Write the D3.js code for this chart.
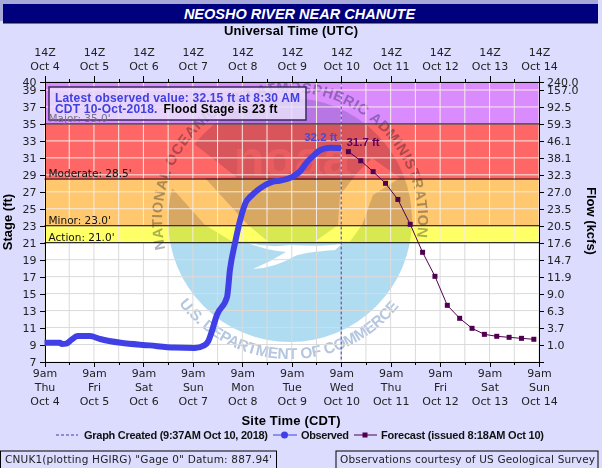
<!DOCTYPE html>
<html>
<head>
<meta charset="utf-8">
<script src="https://cdn.jsdelivr.net/npm/d3@7"></script>
<style>
  html, body { margin: 0; padding: 0; background: #dcdcff; }
  svg { display: block; }
  text { font-family: "DejaVu Sans", sans-serif; }
  .bold { font-family: "Liberation Sans", sans-serif; font-weight: bold; }
  .axis text { font-size: 11px; fill: #222; }
  .axis path, .axis line { stroke: #000; shape-rendering: crispEdges; }
</style>
</head>
<body>
<svg id="chart" width="602" height="468"></svg>
<script>
// hours after 9am Thu Oct 4 (site time)
const obsHours = [0, 7.5, 8.5, 10.5, 13, 16, 22, 27, 37, 51, 63, 73, 77.5, 79.5, 81, 83.7, 88.6, 90, 92.5, 95, 98, 99.8, 104.6, 111, 114, 120.6, 124, 127.4, 130.3, 133.7, 138.6, 144];
const obsStage = [9.2, 9.2, 9.05, 9.1, 9.55, 10, 10, 9.65, 9.2, 8.9, 8.65, 8.6, 8.9, 9.4, 10.4, 12.5, 14.6, 17.8, 21, 23.7, 25.9, 26.4, 27.4, 28.2, 28.3, 28.8, 29.4, 30.5, 31.2, 31.9, 32.2, 32.15];
const fcstHours = [147.5, 153.5, 159.5, 165.5, 171.5, 177.5, 183.5, 189.5, 195.5, 201.5, 207.5, 213.5, 219.5, 225.5, 231.5, 237.5];
const fcstStage = [31.73, 30.66, 29.37, 28.0, 26.1, 23.17, 19.87, 17.04, 13.62, 12.09, 10.91, 10.2, 9.97, 9.85, 9.73, 9.62];

const stageTicks = [40, 39, 37, 35, 33, 31, 29, 27, 25, 23, 21, 19, 17, 15, 13, 11, 9, 7];
const flowLabels = ["240.0", "157.0", "92.5", "59.3", "46.1", "38.1", "32.3", "27.0", "23.5", "20.5", "17.6", "14.7", "11.9", "9.0", "6.3", "3.7", "1.0", ""];
const dayNames = ["Thu", "Fri", "Sat", "Sun", "Mon", "Tue", "Wed", "Thu", "Fri", "Sat", "Sun"];
const dateNames = ["Oct 4", "Oct 5", "Oct 6", "Oct 7", "Oct 8", "Oct 9", "Oct 10", "Oct 11", "Oct 12", "Oct 13", "Oct 14"];

const bandLimits = [40, 35, 28.5, 23, 21];
const bandColors = ["#da8cff", "#ff6666", "#ffc86e", "#ffff66"];
const stageNames = ["Major: 35.0'", "Moderate: 28.5'", "Minor: 23.0'", "Action: 21.0'"];
const stageLevels = [35, 28.5, 23, 21];

const svg = d3.select("#chart");
const margin = { top: 81.5, right: 63, bottom: 106.5, left: 44.5 };
const width = 602, height = 468;

const start = Date.UTC(2018, 9, 4, 9);
const atHour = h => new Date(start + h * 3600000);
const x = d3.scaleUtc().domain([atHour(0), atHour(240)]).range([margin.left, width - margin.right]);
const y = d3.scaleLinear().domain([7, 40]).range([height - margin.bottom, margin.top]);
const days = d3.range(0, 241, 24).map(atHour);
const halfDays = d3.range(12, 240, 24).map(atHour);
const allLines = d3.range(0, 241, 12).map(atHour);

// title bar
svg.append("rect").attr("x", 0).attr("y", 0).attr("width", 598).attr("height", 4).attr("fill", "#a8a8d8");
svg.append("rect").attr("x", 0).attr("y", 0).attr("width", 3).attr("height", 21).attr("fill", "#a8a8d8");
svg.append("rect").attr("x", 3).attr("y", 4).attr("width", 595).attr("height", 19).attr("fill", "#00007f");
svg.append("rect").attr("x", 3).attr("y", 22).attr("width", 595).attr("height", 1.5).attr("fill", "#000050");
svg.append("text").attr("class", "bold").attr("x", 299.5).attr("y", 18.5).attr("text-anchor", "middle")
  .attr("font-size", 14.5).attr("font-style", "italic").attr("fill", "#fff").text("NEOSHO RIVER NEAR CHANUTE");

// plot background and flood bands
svg.append("rect").attr("x", x.range()[0]).attr("y", margin.top)
  .attr("width", x.range()[1] - x.range()[0]).attr("height", y(7) - y(40)).attr("fill", "#fff");
svg.append("g").selectAll("rect").data(bandColors).join("rect")
  .attr("x", x.range()[0])
  .attr("width", x.range()[1] - x.range()[0])
  .attr("y", (d, i) => y(bandLimits[i]))
  .attr("height", (d, i) => y(bandLimits[i + 1]) - y(bandLimits[i]))
  .attr("fill", d => d);

// NOAA watermark
const cx = 290, cy = 220, r = 122;
const logo = svg.append("g").style("mix-blend-mode", "multiply");
const defs = svg.append("defs");
defs.append("clipPath").attr("id", "disc").append("circle").attr("cx", cx).attr("cy", cy).attr("r", r);
const disc = logo.append("g").attr("clip-path", "url(#disc)");
disc.append("rect").attr("x", cx - r).attr("y", cy - r).attr("width", 2 * r).attr("height", y(23) - cy + r).attr("fill", "#d8d6e4");
disc.append("rect").attr("x", cx - r).attr("y", y(23)).attr("width", 2 * r).attr("height", y(21) - y(23)).attr("fill", "#d8e8c8");
disc.append("rect").attr("x", cx - r).attr("y", y(21)).attr("width", 2 * r).attr("height", cy + r - y(21)).attr("fill", "#b0dcf2");
// light stripes and the white gull cut out of the disc
disc.append("path").attr("fill", "#fff")
  .attr("d", "M150 130 L193 143 L237 177.5 L205 178 L248 225 L268 241.5 L232 241.5 L205 225 L172 188 L150 170 Z");
disc.append("path").attr("fill", "#fff")
  .attr("d", "M372 158 L400 178 L373 195 L362 225 L350 241.5 L315 241.5 L338 225 L340 195 L358 172 Z");
disc.append("path").attr("fill", "#fff")
  .attr("d", "M248 243 Q270 248 290 245 Q320 247 342 244 L335 250 Q305 252 295 256 Q275 268 253 269 Q270 262 286 252 Q265 250 248 243 Z");
disc.append("text").attr("class", "bold").attr("x", cx + 2).attr("y", 176).attr("text-anchor", "middle")
  .attr("font-size", 50).attr("fill", "#fff").attr("opacity", 0.45).text("noaa");

const ringPoint = (rad, deg) => [cx + rad * Math.cos(deg * Math.PI / 180), cy + rad * Math.sin(deg * Math.PI / 180)];
const topFrom = ringPoint(128, 167), topTo = ringPoint(128, 13);
const botFrom = ringPoint(139, 143), botTo = ringPoint(139, 37);
defs.append("path").attr("id", "ringTop")
  .attr("d", `M${topFrom} A128 128 0 1 1 ${topTo}`);
defs.append("path").attr("id", "ringBottom")
  .attr("d", `M${botFrom} A139 139 0 0 0 ${botTo}`);
logo.append("text").attr("class", "bold").attr("font-size", 14.5).attr("fill", "#acb0bc")
  .append("textPath").attr("href", "#ringTop").attr("textLength", 448)
  .text("NATIONAL OCEANIC AND ATMOSPHERIC ADMINISTRATION");
logo.append("text").attr("class", "bold").attr("font-size", 15.5).attr("fill", "#b4c6e0")
  .append("textPath").attr("href", "#ringBottom").attr("textLength", 254)
  .text("U.S. DEPARTMENT OF COMMERCE");

// grid
const gridColor = v => v > 21 ? "#f6ece6" : "#dadada";
svg.append("g").selectAll("line").data(stageTicks.slice(1, -1)).join("line")
  .attr("x1", x.range()[0]).attr("x2", x.range()[1])
  .attr("y1", d => y(d)).attr("y2", d => y(d))
  .attr("stroke", gridColor).attr("stroke-width", 1);
svg.append("g").selectAll("line").data(allLines).join("line")
  .attr("x1", d => x(d)).attr("x2", d => x(d))
  .attr("y1", y(40)).attr("y2", y(21))
  .attr("stroke", gridColor(30));
svg.append("g").selectAll("line").data(allLines).join("line")
  .attr("x1", d => x(d)).attr("x2", d => x(d))
  .attr("y1", y(21)).attr("y2", y(7))
  .attr("stroke", gridColor(10));

// info box, under the stage labels
svg.append("rect").attr("x", 49).attr("y", 87).attr("width", 257).attr("height", 33)
  .attr("fill", "#e8e2fa").attr("fill-opacity", 0.82).attr("stroke", "#3a2a60").attr("stroke-width", 1.5);

// stage lines and their labels
svg.append("g").selectAll("line").data(stageLevels).join("line")
  .attr("x1", x.range()[0]).attr("x2", x.range()[1])
  .attr("y1", d => y(d)).attr("y2", d => y(d))
  .attr("stroke", "#000").attr("stroke-width", 1);
svg.append("g").selectAll("text").data(stageNames).join("text")
  .attr("x", 48.5)
  .attr("y", (d, i) => y(stageLevels[i]) - 2)
  .attr("font-size", 10.5)
  .attr("fill", (d, i) => i === 0 ? "#77708a" : "#111")
  .text(d => d);

// graph created marker
svg.append("line").attr("x1", x(atHour(144))).attr("x2", x(atHour(144)))
  .attr("y1", y(40)).attr("y2", y(7))
  .attr("stroke", "#3c3cb4").attr("stroke-dasharray", "3,2");

// axes
const bottomAxis = svg.append("g").attr("class", "axis")
  .attr("transform", `translate(0,${y(7)})`)
  .call(d3.axisBottom(x).tickValues(days).tickSize(5).tickFormat(""));
bottomAxis.selectAll(".tick text").each(function (d, i) {
  const t = d3.select(this).attr("y", 6).attr("dy", 0).attr("text-anchor", "middle");
  t.append("tspan").attr("x", 0).attr("dy", 9.5).text("9am");
  t.append("tspan").attr("x", 0).attr("dy", 14).text(dayNames[i]);
  t.append("tspan").attr("x", 0).attr("dy", 14).text(dateNames[i]);
});
const bottomMinor = svg.append("g").attr("class", "axis").attr("transform", `translate(0,${y(7)})`)
  .call(d3.axisBottom(x).tickValues(halfDays).tickSize(3).tickFormat(""));
bottomMinor.select(".domain").remove();
bottomMinor.selectAll("text").remove();

const topAxis = svg.append("g").attr("class", "axis")
  .attr("transform", `translate(0,${y(40)})`)
  .call(d3.axisTop(x).tickValues(days).tickSize(6).tickFormat(""));
topAxis.selectAll(".tick text").each(function (d, i) {
  const t = d3.select(this).attr("y", 0).attr("dy", 0).attr("text-anchor", "middle");
  t.append("tspan").attr("x", 0).attr("dy", -26).text("14Z");
  t.append("tspan").attr("x", 0).attr("dy", 14).text(dateNames[i]);
});
const topMinor = svg.append("g").attr("class", "axis").attr("transform", `translate(0,${y(40)})`)
  .call(d3.axisTop(x).tickValues(halfDays).tickSize(3).tickFormat(""));
topMinor.select(".domain").remove();
topMinor.selectAll("text").remove();

svg.append("g").attr("class", "axis")
  .attr("transform", `translate(${x.range()[0]},0)`)
  .call(d3.axisLeft(y).tickValues(stageTicks).tickSize(5).tickPadding(3).tickFormat(d3.format("d")));
const rightAxis = svg.append("g").attr("class", "axis")
  .attr("transform", `translate(${x.range()[1]},0)`)
  .call(d3.axisRight(y).tickValues(stageTicks).tickSize(5).tickPadding(3).tickFormat((d, i) => flowLabels[i]));
rightAxis.selectAll(".tick text").filter(function () { return this.textContent === ""; }).remove();

svg.append("text").attr("class", "bold").attr("x", 291).attr("y", 35).attr("text-anchor", "middle")
  .attr("font-size", 13).attr("textLength", 134).attr("fill", "#000").text("Universal Time (UTC)");
svg.append("text").attr("class", "bold").attr("x", 291).attr("y", 425).attr("text-anchor", "middle")
  .attr("font-size", 13).attr("textLength", 99).attr("fill", "#000").text("Site Time (CDT)");
svg.append("text").attr("class", "bold").attr("transform", "translate(12,222) rotate(-90)").attr("text-anchor", "middle")
  .attr("font-size", 13).attr("fill", "#000").text("Stage (ft)");
svg.append("text").attr("class", "bold").attr("transform", "translate(587,221) rotate(90)").attr("text-anchor", "middle")
  .attr("font-size", 13).attr("fill", "#000").text("Flow (kcfs)");

// series
const line = d3.line().x(d => x(atHour(d[0]))).y(d => y(d[1]));
svg.append("path").datum(d3.zip(obsHours, obsStage))
  .attr("d", line.curve(d3.curveMonotoneX)).attr("fill", "none").attr("stroke", "#4040e6").attr("stroke-width", 6).attr("stroke-linejoin", "round");
svg.append("path").datum(d3.zip(fcstHours, fcstStage))
  .attr("d", line.curve(d3.curveLinear)).attr("fill", "none").attr("stroke", "#500050").attr("stroke-width", 1);
svg.append("g").selectAll("rect").data(d3.zip(fcstHours, fcstStage)).join("rect")
  .attr("x", d => x(atHour(d[0])) - 2.5).attr("y", d => y(d[1]) - 2.5)
  .attr("width", 5).attr("height", 5).attr("fill", "#500050");

svg.append("text").attr("class", "bold").attr("x", x(atHour(144)) - 37).attr("y", 141)
  .attr("font-size", 11.5).attr("fill", "#4848e0").text("32.2 ft");
svg.append("text").attr("class", "bold").attr("x", x(atHour(147.5)) - 2).attr("y", 146)
  .attr("font-size", 11.5).attr("fill", "#600060").text("31.7 ft");

// info box text
svg.append("text").attr("class", "bold").attr("x", 55).attr("y", 101.5).attr("font-size", 12)
  .attr("fill", "#4040e0").attr("textLength", 245).text("Latest observed value: 32.15 ft at 8:30 AM");
const line2 = svg.append("text").attr("class", "bold").attr("x", 55).attr("y", 112.5).attr("font-size", 12).attr("letter-spacing", 0.2);
line2.append("tspan").attr("fill", "#4040e0").text("CDT 10-Oct-2018.");
line2.append("tspan").attr("fill", "#000").attr("dx", 6).text("Flood Stage is 23 ft");

// legend
const legendY = 435;
svg.append("line").attr("x1", 56).attr("x2", 78).attr("y1", legendY).attr("y2", legendY)
  .attr("stroke", "#3c3cb4").attr("stroke-dasharray", "3,2");
svg.append("text").attr("class", "bold").attr("x", 84).attr("y", legendY + 4).attr("font-size", 11).attr("fill", "#111")
  .attr("textLength", 184).text("Graph Created (9:37AM Oct 10, 2018)");
svg.append("line").attr("x1", 273).attr("x2", 297).attr("y1", legendY).attr("y2", legendY).attr("stroke", "#4040e6");
svg.append("circle").attr("cx", 284.5).attr("cy", legendY).attr("r", 3.5).attr("fill", "#4040e6");
svg.append("text").attr("class", "bold").attr("x", 301).attr("y", legendY + 4).attr("font-size", 11).attr("fill", "#111")
  .attr("textLength", 48).text("Observed");
svg.append("line").attr("x1", 354).attr("x2", 377).attr("y1", legendY).attr("y2", legendY).attr("stroke", "#500050");
svg.append("rect").attr("x", 362.5).attr("y", legendY - 2.5).attr("width", 5).attr("height", 5).attr("fill", "#500050");
svg.append("text").attr("class", "bold").attr("x", 381).attr("y", legendY + 4).attr("font-size", 11).attr("fill", "#111")
  .attr("textLength", 163).text("Forecast (issued 8:18AM Oct 10)");

// footer boxes
svg.append("rect").attr("x", 0.5).attr("y", 451).attr("width", 276).attr("height", 20)
  .attr("fill", "#dcdcff").attr("stroke", "#000");
svg.append("text").attr("x", 5).attr("y", 463).attr("font-size", 10.5).attr("fill", "#222")
  .attr("textLength", 267).text("CNUK1(plotting HGIRG) \"Gage 0\" Datum: 887.94'");
svg.append("rect").attr("x", 336).attr("y", 451).attr("width", 262).attr("height", 20)
  .attr("fill", "#dcdcff").attr("stroke", "#000");
svg.append("text").attr("x", 340).attr("y", 463).attr("font-size", 10.5).attr("fill", "#222")
  .attr("textLength", 255).text("Observations courtesy of US Geological Survey");
</script>
</body>
</html>
